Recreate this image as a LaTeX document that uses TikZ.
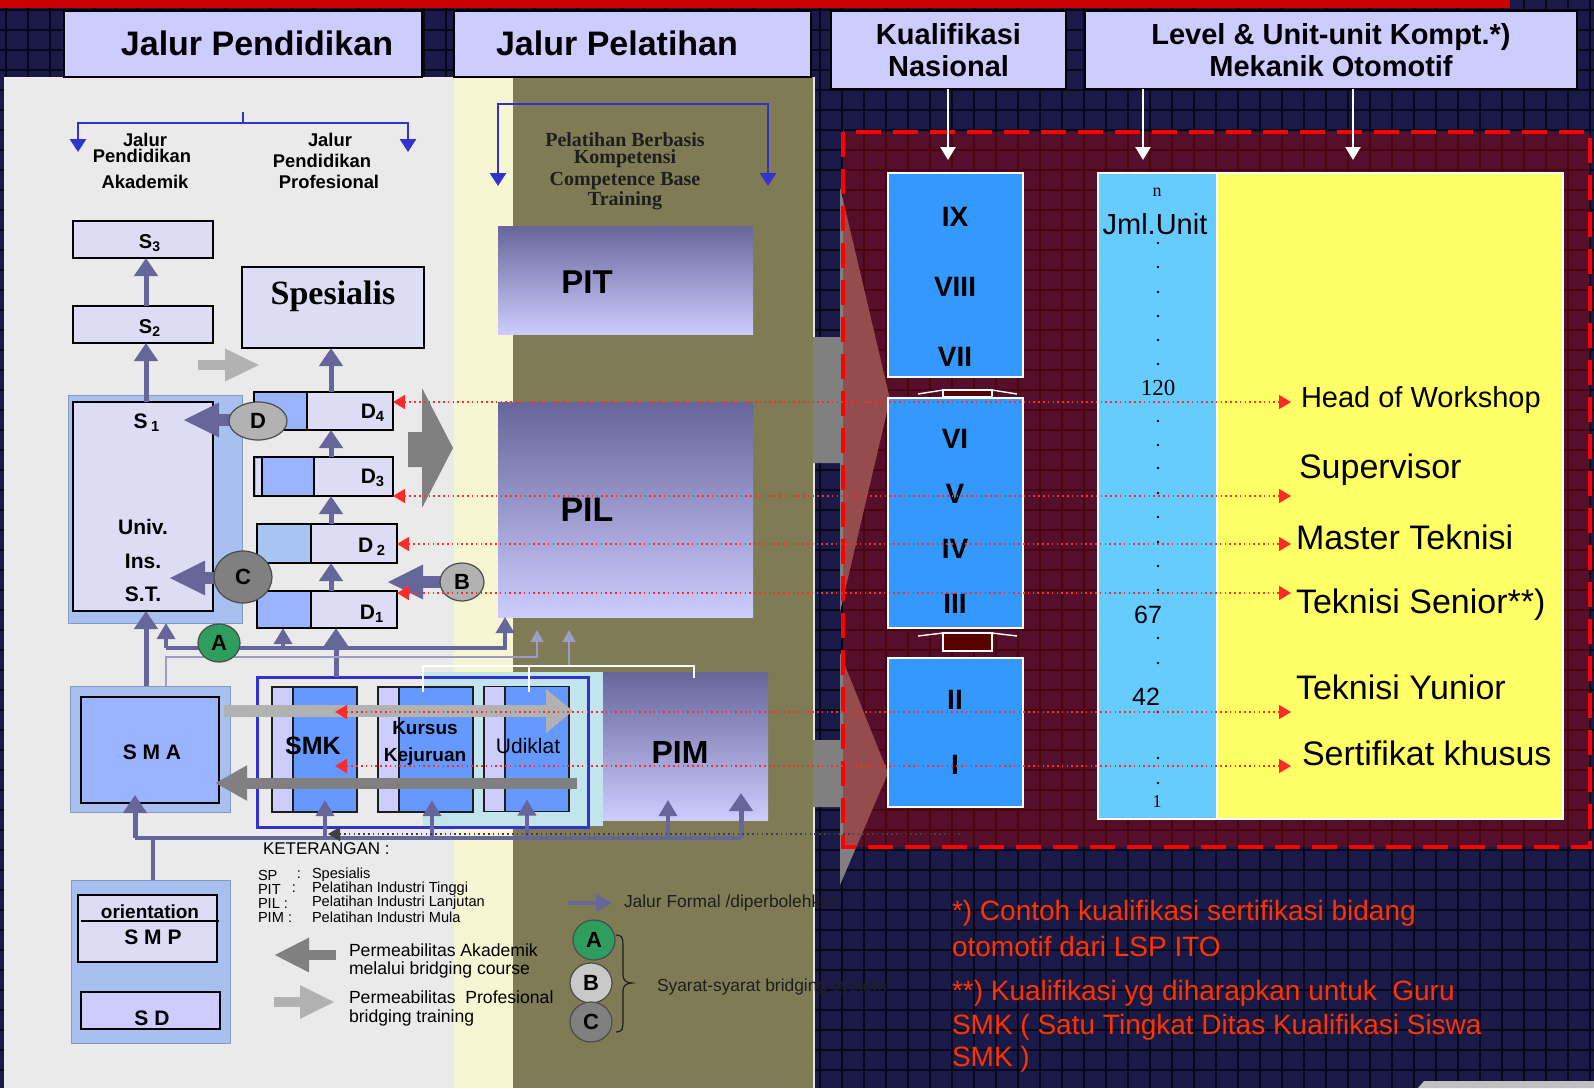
\documentclass[tikz,border=0pt]{standalone}
\usepackage{fontspec}
\setmainfont{Liberation Sans}
\newfontfamily\serifface{Liberation Serif}
\usetikzlibrary{arrows.meta,shapes.geometric}

\definecolor{navy}{HTML}{1A1A48}
\definecolor{gridc}{HTML}{08081A}
\definecolor{topred}{HTML}{CC0000}
\definecolor{hdrlav}{HTML}{CCCCFF}
\definecolor{panel}{HTML}{EAEAEA}
\definecolor{paleyel}{HTML}{F6F6D2}
\definecolor{olive}{HTML}{7E7B55}
\definecolor{lav}{HTML}{DCDCF5}
\definecolor{lav2}{HTML}{CCCCFF}
\definecolor{pblue}{HTML}{99B3FF}
\definecolor{pblue2}{HTML}{A8C4F0}
\definecolor{frame}{HTML}{A8C0F0}
\definecolor{mblue}{HTML}{6699FF}
\definecolor{lvblue}{HTML}{3399FF}
\definecolor{skyc}{HTML}{66CCFF}
\definecolor{yel}{HTML}{FFFF66}
\definecolor{slate}{HTML}{66669A}
\definecolor{slatel}{HTML}{9C9CC4}
\definecolor{royal}{HTML}{3333CC}
\definecolor{dgray}{HTML}{808080}
\definecolor{lgray}{HTML}{B2B2B2}
\definecolor{cgreen}{HTML}{2E9E5E}
\definecolor{dotred}{HTML}{FF2A2A}
\definecolor{notered}{HTML}{FF3300}
\definecolor{cyanbg}{HTML}{C2E4EC}
\definecolor{ink}{HTML}{1E1E1E}

\tikzset{
  every node/.style={inner sep=0pt, outer sep=0pt},
  hdr/.style={draw=black, line width=0.8pt, fill=hdrlav},
  hdrbig/.style={font=\fontsize{17}{20}\selectfont\bfseries},
  hdrsmall/.style={font=\fontsize{14.5}{16}\selectfont\bfseries, align=center},
  lvbox/.style={draw=white, line width=0.9pt, fill=lvblue, minimum width=67.5pt},
  lvtxt/.style={font=\fontsize{14}{16}\selectfont\bfseries},
  sbox/.style={draw=black, line width=1.3pt, fill=lav},
  fbox/.style={fill=frame, draw=frame!80!black, line width=0.4pt},
  kbox/.style={draw=ink, line width=0.6pt, fill=mblue, minimum height=62.5pt},
  part/.style n args={3}{path picture={%
    \fill[#1] (path picture bounding box.south west) rectangle ([xshift=#2]path picture bounding box.north west);
    \draw[line width=#3] ([xshift=#2]path picture bounding box.south west) -- ([xshift=#2]path picture bounding box.north west);}},
  grad/.style={top color=slate, bottom color=lav2},
  bfs/.style={font=\fontsize{#1}{#1}\selectfont\bfseries},
  rfs/.style={font=\fontsize{#1}{#1}\selectfont},
  pbk/.style={font=\serifface\fontsize{10}{10}\selectfont\bfseries, text=ink},
  circ/.style={ellipse, draw=black!70, line width=0.6pt, font=\fontsize{11}{11}\selectfont\bfseries},
  slateArr/.style={draw=slate, line width=2.5pt, -{Triangle[length=9pt,width=11.5pt]}},
  slateMid/.style={draw=slate, line width=1.7pt, -{Triangle[length=8pt,width=9pt]}},
  slateThin/.style={draw=slatel, line width=1pt, -{Triangle[length=6pt,width=6.5pt]}},
  fatArr/.style={draw=slate, line width=6pt, -{Triangle[length=18pt,width=16pt]}},
  barr/.style={draw=royal, line width=1.4pt, -{Triangle[length=6.5pt,width=8pt]}},
  warr/.style={draw=white, line width=1.2pt, -{Triangle[length=6.5pt,width=7.5pt]}},
  reddot/.style={draw=dotred, line width=0.8pt, dash pattern=on 0.8pt off 1.6pt,
    {Triangle[length=6pt,width=7pt]}-{Triangle[length=6pt,width=7pt]}},
  dkdot/.style={draw=black!75, line width=0.8pt, dash pattern=on 0.8pt off 1.6pt, -{Triangle[length=6pt,width=7pt]}},
}

\begin{document}
\begin{tikzpicture}[x=0.5pt, y=-0.5pt]
  \useasboundingbox (0,0) rectangle (1594,1088);
  % background
  \fill[navy] (0,0) rectangle (1594,1088);
  \foreach \gx in {6,28,...,1594}
    \draw[gridc, line width=0.8pt] (\gx,0) -- (\gx,1088);
  \foreach \gy in {10,30,...,1088}
    \draw[gridc, line width=0.8pt] (0,\gy) -- (1594,\gy);
  \fill[topred] (0,0) rectangle (1510,8);
  \fill[panel] (4,77) rectangle (454,1088);
  \fill[paleyel] (454,77) rectangle (513,1088);
  \fill[olive] (513,77) rectangle (813,1088);
  \draw[white!80!gray, line width=1pt] (814,77) -- (814,1088);
  \fill[lightgray] (1418,1088) -- (1424,1081) -- (1594,1081) -- (1594,1088) -- cycle;

  % grey arrows into the frame
  \fill[dgray] (813,337) -- (840,337) -- (840,187) -- (890,399) -- (840,612) -- (840,463) -- (813,463) -- cycle;
  \fill[dgray] (813,740) -- (840,740) -- (840,653) -- (888,773) -- (840,885) -- (840,807) -- (813,807) -- cycle;
  \fill[red!70!black, opacity=0.4] (843,132) rectangle (1590,847);
  \draw[red, line width=2pt, dash pattern=on 12.5pt off 6pt] (843,132) rectangle (1590,847);

  % headers
  \node[hdr, minimum width=179pt, minimum height=33pt] (hPend) at (243,44) {};
  \node[hdrbig] (tPend) at (257,43) {Jalur Pendidikan};
  \node[hdr, minimum width=178.5pt, minimum height=33pt] (hPel) at (632.5,44) {};
  \node[hdrbig] (tPel) at (617,43) {Jalur Pelatihan};
  \node[hdr, hdrsmall, minimum width=117.5pt, minimum height=39pt] (hKual) at (948.5,50) {Kualifikasi\\Nasional};
  \node[hdr, hdrsmall, minimum width=246pt, minimum height=39pt] (hLevel) at (1331,50) {Level \& Unit-unit Kompt.*)\\Mekanik Otomotif};

  \coordinate (kqTip) at (948,160);
  \coordinate (lvTip1) at (1143,160);
  \coordinate (lvTip2) at (1353,160);
  \draw[warr] (kqTip |- hKual.south) -- (kqTip);
  \draw[warr] (lvTip1 |- hLevel.south) -- (lvTip1);
  \draw[warr] (lvTip2 |- hLevel.south) -- (lvTip2);

  % national levels
  \node[lvbox, minimum height=102pt] (lvA) at (955.5,275) {};
  \node[lvbox, minimum height=115pt] (lvB) at (955.5,513) {};
  \node[lvbox, minimum height=74.5pt] (lvC) at (955.5,732.5) {};
  \foreach \lab/\yy in {IX/217, VIII/287, VII/357, VI/439, V/494, IV/549, III/604, II/700, I/765}
    \node[lvtxt] (lv\lab) at (955,\yy) {\lab};
  \draw[white, line width=0.7pt] (918,394) -- (943,390) -- (992,390) -- (1017,394);
  \draw[white, line width=0.7pt, fill=red!35!black] (943,390) rectangle (992,397);
  \draw[white, line width=0.7pt] (918,636) -- (943,633) -- (992,633) -- (1017,636);
  \draw[white, line width=0.7pt, fill=red!35!black] (943,633) rectangle (992,651);

  % units and competences
  \node[draw=white, line width=1pt, fill=skyc, minimum width=59.5pt, minimum height=323pt] (jml) at (1157.5,496) {};
  \node[draw=white, line width=1pt, fill=yel, minimum width=173pt, minimum height=323pt] (kom) at (1390,496) {};
  \node[font=\serifface\fontsize{9}{9}\selectfont] (uN) at (1157,192) {n};
  \node[rfs=14.5] (uJml) at (1155,224) {Jml.Unit};
  \foreach \dy in {243,267,292,316,340,364,421,445,468,493,517,542,566,590,638,663,712,758,783}
    \fill (1158,\dy) circle[radius=0.7pt];
  \node[font=\serifface\fontsize{11.5}{11.5}\selectfont] (u120) at (1158,388) {120};
  \node[rfs=12.5] (u67) at (1148,615) {67};
  \node[rfs=12.5] (u42) at (1146,697) {42};
  \node[font=\serifface\fontsize{9}{9}\selectfont] (u1) at (1157,802) {1};
  \node[rfs=14.5, anchor=west] (kHead) at (1301,400) {Head of Workshop};
  \node[rfs=17, anchor=west] (kSup) at (1299,470) {Supervisor};
  \node[rfs=17, anchor=west] (kMas) at (1296,537) {Master Teknisi};
  \node[rfs=17, anchor=west] (kSen) at (1296,605) {Teknisi Senior**)};
  \node[rfs=17, anchor=west] (kYun) at (1296,687) {Teknisi Yunior};
  \node[rfs=17, anchor=west] (kSer) at (1302,753) {Sertifikat khusus};

  % education path brackets
  \draw[royal, line width=1.4pt] (243,112) -- (243,123);
  \draw[barr] (243,123) -| (78,152);
  \draw[barr] (243,123) -| (408,152);
  \node[bfs=9.2] (tJa1) at (145,140) {Jalur};
  \node[bfs=9.2] (tPe1) at (142,156) {Pendidikan};
  \node[bfs=9.2] (tAk) at (145,182) {Akademik};
  \node[bfs=9.2] (tJa2) at (330,140) {Jalur};
  \node[bfs=9.2] (tPe2) at (322,161) {Pendidikan};
  \node[bfs=9.2] (tPr) at (329,182) {Profesional};

  % training path
  \draw[barr] (633,104) -| (498,186);
  \draw[barr] (633,104) -| (768,186);
  \node[pbk] (tPb1) at (625,140) {Pelatihan Berbasis};
  \node[pbk] (tPb2) at (625,159) {Kompetensi};
  \node[pbk] (tCb1) at (625,181) {Competence Base};
  \node[pbk] (tCb2) at (625,201) {Training};
  \node[grad, minimum width=127.5pt, minimum height=54pt] (pit) at (625.5,280) {};
  \node[bfs=16.5] (tPit) at (587,282) {PIT};
  \node[grad, minimum width=127.5pt, minimum height=107.5pt] (pil) at (625.5,509.5) {};
  \node[bfs=17] (tPil) at (587,510) {PIL};

  % academic boxes
  \node[sbox, minimum width=70pt, minimum height=18.5pt] (s3) at (143,239.5) {};
  \node[bfs=10] (tS3) at (150,243) {S\textsubscript{3}};
  \node[sbox, minimum width=70pt, minimum height=18.5pt] (s2) at (143,324.5) {};
  \node[bfs=10] (tS2) at (150,328) {S\textsubscript{2}};
  \node[sbox, minimum width=91pt, minimum height=40.5pt] (spes) at (333,307.5) {};
  \node[font=\serifface\fontsize{17}{17}\selectfont\bfseries] (tSpes) at (333,296) {Spesialis};
  \node[fbox, minimum width=87pt, minimum height=114pt] (s1O) at (155,509) {};
  \node[sbox, minimum width=70pt, minimum height=104.5pt] (s1) at (143,506.5) {};
  \node[bfs=10.5] (tS1) at (147,423) {S\,\textsubscript{1}};
  \node[bfs=10.5] (tUniv) at (143,527) {Univ.};
  \node[bfs=10.5] (tIns) at (143,561) {Ins.};
  \node[bfs=10.5] (tST) at (143,594) {S.T.};

  % diploma boxes
  \node[sbox, part={pblue}{26.5pt}{1.3pt}, minimum width=69.5pt, minimum height=19pt] (d4) at (323.5,411) {};
  \node[sbox, part={pblue}{30pt}{1.3pt}, minimum width=69.5pt, minimum height=19.5pt] (d3) at (323.5,476.5) {};
  \fill[lav] (255.5,458.5) rectangle (262,494.5);
  \draw[line width=1pt] (262,457) -- (262,496);
  \node[sbox, part={pblue2}{27pt}{1.3pt}, minimum width=70pt, minimum height=19.5pt] (d2) at (327,543.5) {};
  \node[sbox, part={pblue}{27pt}{1.3pt}, minimum width=70pt, minimum height=18.5pt] (d1) at (327,609.5) {};
  \node[bfs=10.5] (tD4) at (373,413) {D\textsubscript{4}};
  \node[bfs=10.5] (tD3) at (373,478) {D\textsubscript{3}};
  \node[bfs=10.5] (tD2) at (372,547) {D\,\textsubscript{2}};
  \node[bfs=10.5] (tD1) at (372,614) {D\textsubscript{1}};

  % secondary and vocational boxes
  \fill[cyanbg] (423,672) rectangle (603,826);
  \node[fbox, minimum width=80pt, minimum height=63pt] (smaO) at (150,749) {};
  \node[draw=black, line width=1.3pt, fill=pblue, minimum width=69pt, minimum height=53pt] (sma) at (150,750) {};
  \node[bfs=10.5] (tSma) at (152,752) {S M A};
  \node[fbox, minimum width=79.5pt, minimum height=81.5pt] (smpO) at (150.5,961.5) {};
  \node[sbox, minimum width=69.5pt, minimum height=33.5pt] (smp) at (147.5,928.5) {};
  \draw[line width=0.6pt] (81,921) -- (219,921);
  \node[bfs=9.5] (tOri) at (150,912) {orientation};
  \node[bfs=10.5] (tSmp) at (153,937) {S M P};
  \node[sbox, fill=lav2, minimum width=69.5pt, minimum height=18.5pt] (sd) at (150.5,1010.5) {};
  \node[bfs=10.5] (tSd) at (152,1018) {S D};

  \node[kbox, part={lav2}{10.5pt}{0.6pt}, minimum width=42.5pt] (smk) at (314.5,749.5) {};
  \node[bfs=12.5] (tSmk) at (313,746) {SMK};
  \node[kbox, part={lav2}{10.5pt}{0.6pt}, minimum width=47.5pt] (kur) at (425.5,749.5) {};
  \node[bfs=9.5] (tKur1) at (425,728) {Kursus};
  \node[bfs=9.5] (tKur2) at (425,757) {Kejuruan};
  \node[kbox, part={lav2}{10.5pt}{0.6pt}, minimum width=42.5pt] (udk) at (526.5,749) {};
  \node[rfs=10.5] (tUdk) at (528,746) {Udiklat};
  \node[draw=royal, line width=1.5pt, minimum width=165.5pt, minimum height=75pt] (smkRect) at (422.5,752) {};
  \node[grad, minimum width=82.5pt, minimum height=74pt] (pim) at (685.5,746) {};
  \node[bfs=16] (tPim) at (680,752) {PIM};

  % formal paths
  \coordinate (scol) at (146,0);
  \coordinate (dcol) at (331,0);
  \coordinate (kcol) at (336,0);
  \draw[slateArr] (s2.north -| scol) -- (s3.south -| scol);
  \draw[slateArr] (s1.north -| scol) -- (s2.south -| scol);
  \draw[slateArr] (smaO.north -| scol) -- (s1.south -| scol);
  \draw[slateArr] (d1.north -| dcol) -- (d2.south -| dcol);
  \draw[slateArr] (d2.north -| dcol) -- (d3.south -| dcol);
  \draw[slateArr] (d3.north -| dcol) -- (d4.south -| dcol);
  \draw[slateArr] (d4.north -| dcol) -- (spes.south -| dcol);
  \draw[slateArr] (smkRect.north -| kcol) -- (d1.south -| kcol);

  \coordinate (aL) at (166,648);
  \coordinate (aR) at (505,648);
  \coordinate (aD) at (283,648);
  \draw[slateMid] (aL) -- (aR) -- (aR |- pil.south);
  \draw[slateMid] (aL) -- (aL |- s1O.south);
  \draw[slateMid] (aD) -- (aD |- d1.south);
  \coordinate (l2a) at (166,657);
  \coordinate (l2b) at (537,657);
  \coordinate (l2t) at (537,630);
  \draw[slateThin] (smaO.north -| l2a) -- (l2a) -- (l2b) -- (l2t);
  \coordinate (wb) at (569,666);
  \coordinate (wt) at (569,630);
  \draw[slateThin] (wb) -- (wt);
  \draw[white, line width=1.2pt] (423,692) -- (423,666) -- (694,666) -- (694,678);
  \draw[white, line width=1.2pt] (529,666) -- (529,692);

  \coordinate (bL) at (135,838);
  \coordinate (bR) at (741,838);
  \coordinate (bSmp) at (153,838);
  \draw[draw=slate, line width=1.6pt] (bL) -- (bR);
  \draw[draw=slate, line width=2pt] (smpO.north -| bSmp) -- (bSmp);
  \draw[slateArr, shorten >=-4pt] (bL) -- (bL |- sma.south);
  \foreach \bx/\tg in {325/smk, 432/kur, 527/udk}{
    \coordinate (bu\tg) at (\bx,838);
    \draw[slateMid, shorten >=-6pt] (bu\tg) -- (bu\tg |- \tg.south);
  }
  \coordinate (bp1) at (668,838);
  \draw[slateMid, shorten >=-10pt] (bp1) -- (bp1 |- pim.south);
  \draw[slateArr, shorten >=-13.5pt] (bR) -- (bR |- pim.south);

  % bridging arrows
  \coordinate (pb1) at (198,365);
  \coordinate (pb2) at (260,365);
  \draw[draw=lgray, line width=5pt, -{Triangle[length=17.5pt,width=15pt]}] (pb1) -- (pb2);
  \fill[dgray] (408,432) -- (422,432) -- (422,388) -- (453,448) -- (422,508) -- (422,467) -- (408,467) -- cycle;
  \coordinate (gL) at (224,711);
  \coordinate (gR) at (573,711);
  \draw[draw=lgray, line width=6pt, -{Triangle[length=13.5pt,width=21pt]}] (gL) -- (gR);
  \coordinate (kR) at (577,783);
  \coordinate (kL) at (215,783);
  \draw[draw=dgray, line width=5.5pt, -{Triangle[length=16pt,width=16.5pt]}] (kR) -- (kL);

  % bridging conditions
  \coordinate (s1d) at (183,420);
  \coordinate (s1c) at (169,578);
  \coordinate (d12) at (387,582);
  \draw[fatArr] (258,420) -- (s1d);
  \draw[fatArr] (243,578) -- (s1c);
  \draw[fatArr] (462,582) -- (d12);
  \node[circ, fill=lgray, minimum width=29pt, minimum height=19pt] (cD) at (258,421) {D};
  \node[circ, fill=dgray, minimum width=29pt, minimum height=26pt] (cC) at (243,577) {C};
  \node[circ, fill=lgray, minimum width=22pt, minimum height=19pt] (cB) at (462,582) {B};
  \node[circ, fill=cgreen, minimum width=21pt, minimum height=19pt] (cA) at (219,643) {A};

  % links to the competences
  \coordinate (rr1) at (1291,402);
  \coordinate (rr2) at (1291,496);
  \coordinate (rr3) at (1291,544);
  \coordinate (rr4) at (1291,593);
  \coordinate (rr5) at (1291,712);
  \coordinate (rr6) at (1291,766);
  \coordinate (smkL) at (335,0);
  \draw[reddot] (d4.east |- rr1) -- (rr1);
  \draw[reddot] (d3.east |- rr2) -- (rr2);
  \draw[reddot] (d2.east |- rr3) -- (rr3);
  \draw[reddot] (d1.east |- rr4) -- (rr4);
  \draw[reddot] (smkL |- rr5) -- (rr5);
  \draw[reddot] (smkL |- rr6) -- (rr6);
  \coordinate (dk1) at (328,834);
  \coordinate (dk2) at (960,834);
  \draw[dkdot] (dk2) -- (dk1);

  % legend
  \node[rfs=8.5, anchor=west] (kTitle) at (263,849) {KETERANGAN :};
  \node[rfs=7.3, anchor=west] (kSP) at (258,875) {SP};
  \node[rfs=7.3] (kSPc) at (299,875) {:};
  \node[rfs=7.3, anchor=west] (kSPd) at (312,875) {Spesialis};
  \node[rfs=7.3, anchor=west] (kPIT) at (258,889) {PIT};
  \node[rfs=7.3] (kPITc) at (294,889) {:};
  \node[rfs=7.3, anchor=west] (kPITd) at (312,889) {Pelatihan Industri Tinggi};
  \node[rfs=7.3, anchor=west] (kPIL) at (258,903) {PIL :};
  \node[rfs=7.3, anchor=west] (kPILd) at (312,903) {Pelatihan Industri Lanjutan};
  \node[rfs=7.3, anchor=west] (kPIM) at (258,917) {PIM :};
  \node[rfs=7.3, anchor=west] (kPIMd) at (312,917) {Pelatihan Industri Mula};

  \coordinate (la1) at (336,955);
  \coordinate (la2) at (274,955);
  \draw[draw=dgray, line width=5pt, -{Triangle[length=17.5pt,width=16pt]}] (la1) -- (la2);
  \coordinate (lp1) at (274,1002);
  \coordinate (lp2) at (335,1002);
  \draw[draw=lgray, line width=5pt, -{Triangle[length=17.5pt,width=15.5pt]}] (lp1) -- (lp2);
  \node[rfs=8.8, anchor=west] (kAk1) at (349,950) {Permeabilitas Akademik};
  \node[rfs=8.8, anchor=west] (kAk2) at (349,970) {melalui bridging course};
  \node[rfs=8.8, anchor=west] (kPr1) at (349,997) {Permeabilitas\ \ Profesional};
  \node[rfs=8.8, anchor=west] (kPr2) at (349,1018) {bridging training};

  \coordinate (jf1) at (568,903);
  \coordinate (jf2) at (612,903);
  \draw[draw=slate, line width=1.6pt, -{Triangle[length=8pt,width=8.5pt]}] (jf1) -- (jf2);
  \node[rfs=8.7, anchor=west, text=ink] (kJf) at (624,903) {Jalur Formal /diperbolehkan};
  \node[circ, fill=cgreen, minimum width=21pt, minimum height=20pt] (lgA) at (594,940) {A};
  \node[circ, fill=lgray!70!white, minimum width=21pt, minimum height=20pt] (lgB) at (591,983) {B};
  \node[circ, fill=dgray, minimum width=21pt, minimum height=20pt] (lgC) at (591,1022) {C};
  \draw[ink, line width=0.6pt] (616,935) .. controls (622,935) and (623,938) .. (623,945) -- (623,975)
    .. controls (623,980) and (626,983) .. (632,983) .. controls (626,983) and (623,986) .. (623,991)
    -- (623,1022) .. controls (623,1029) and (622,1032) .. (616,1032);
  \node[rfs=8.7, anchor=west, text=ink] (kSy) at (657,987) {Syarat-syarat bridging system};

  % notes
  \node[rfs=14, anchor=west, text=notered] (n1) at (952,913) {*) Contoh kualifikasi sertifikasi bidang};
  \node[rfs=14, anchor=west, text=notered] (n2) at (952,946) {otomotif dari LSP ITO};
  \node[rfs=14, anchor=west, text=notered] (n3) at (952,993) {**) Kualifikasi yg diharapkan untuk\ \ Guru};
  \node[rfs=14, anchor=west, text=notered] (n4) at (952,1027) {SMK ( Satu Tingkat Ditas Kualifikasi Siswa};
  \node[rfs=14, anchor=west, text=notered] (n5) at (952,1059) {SMK )};
\end{tikzpicture}
\end{document}
